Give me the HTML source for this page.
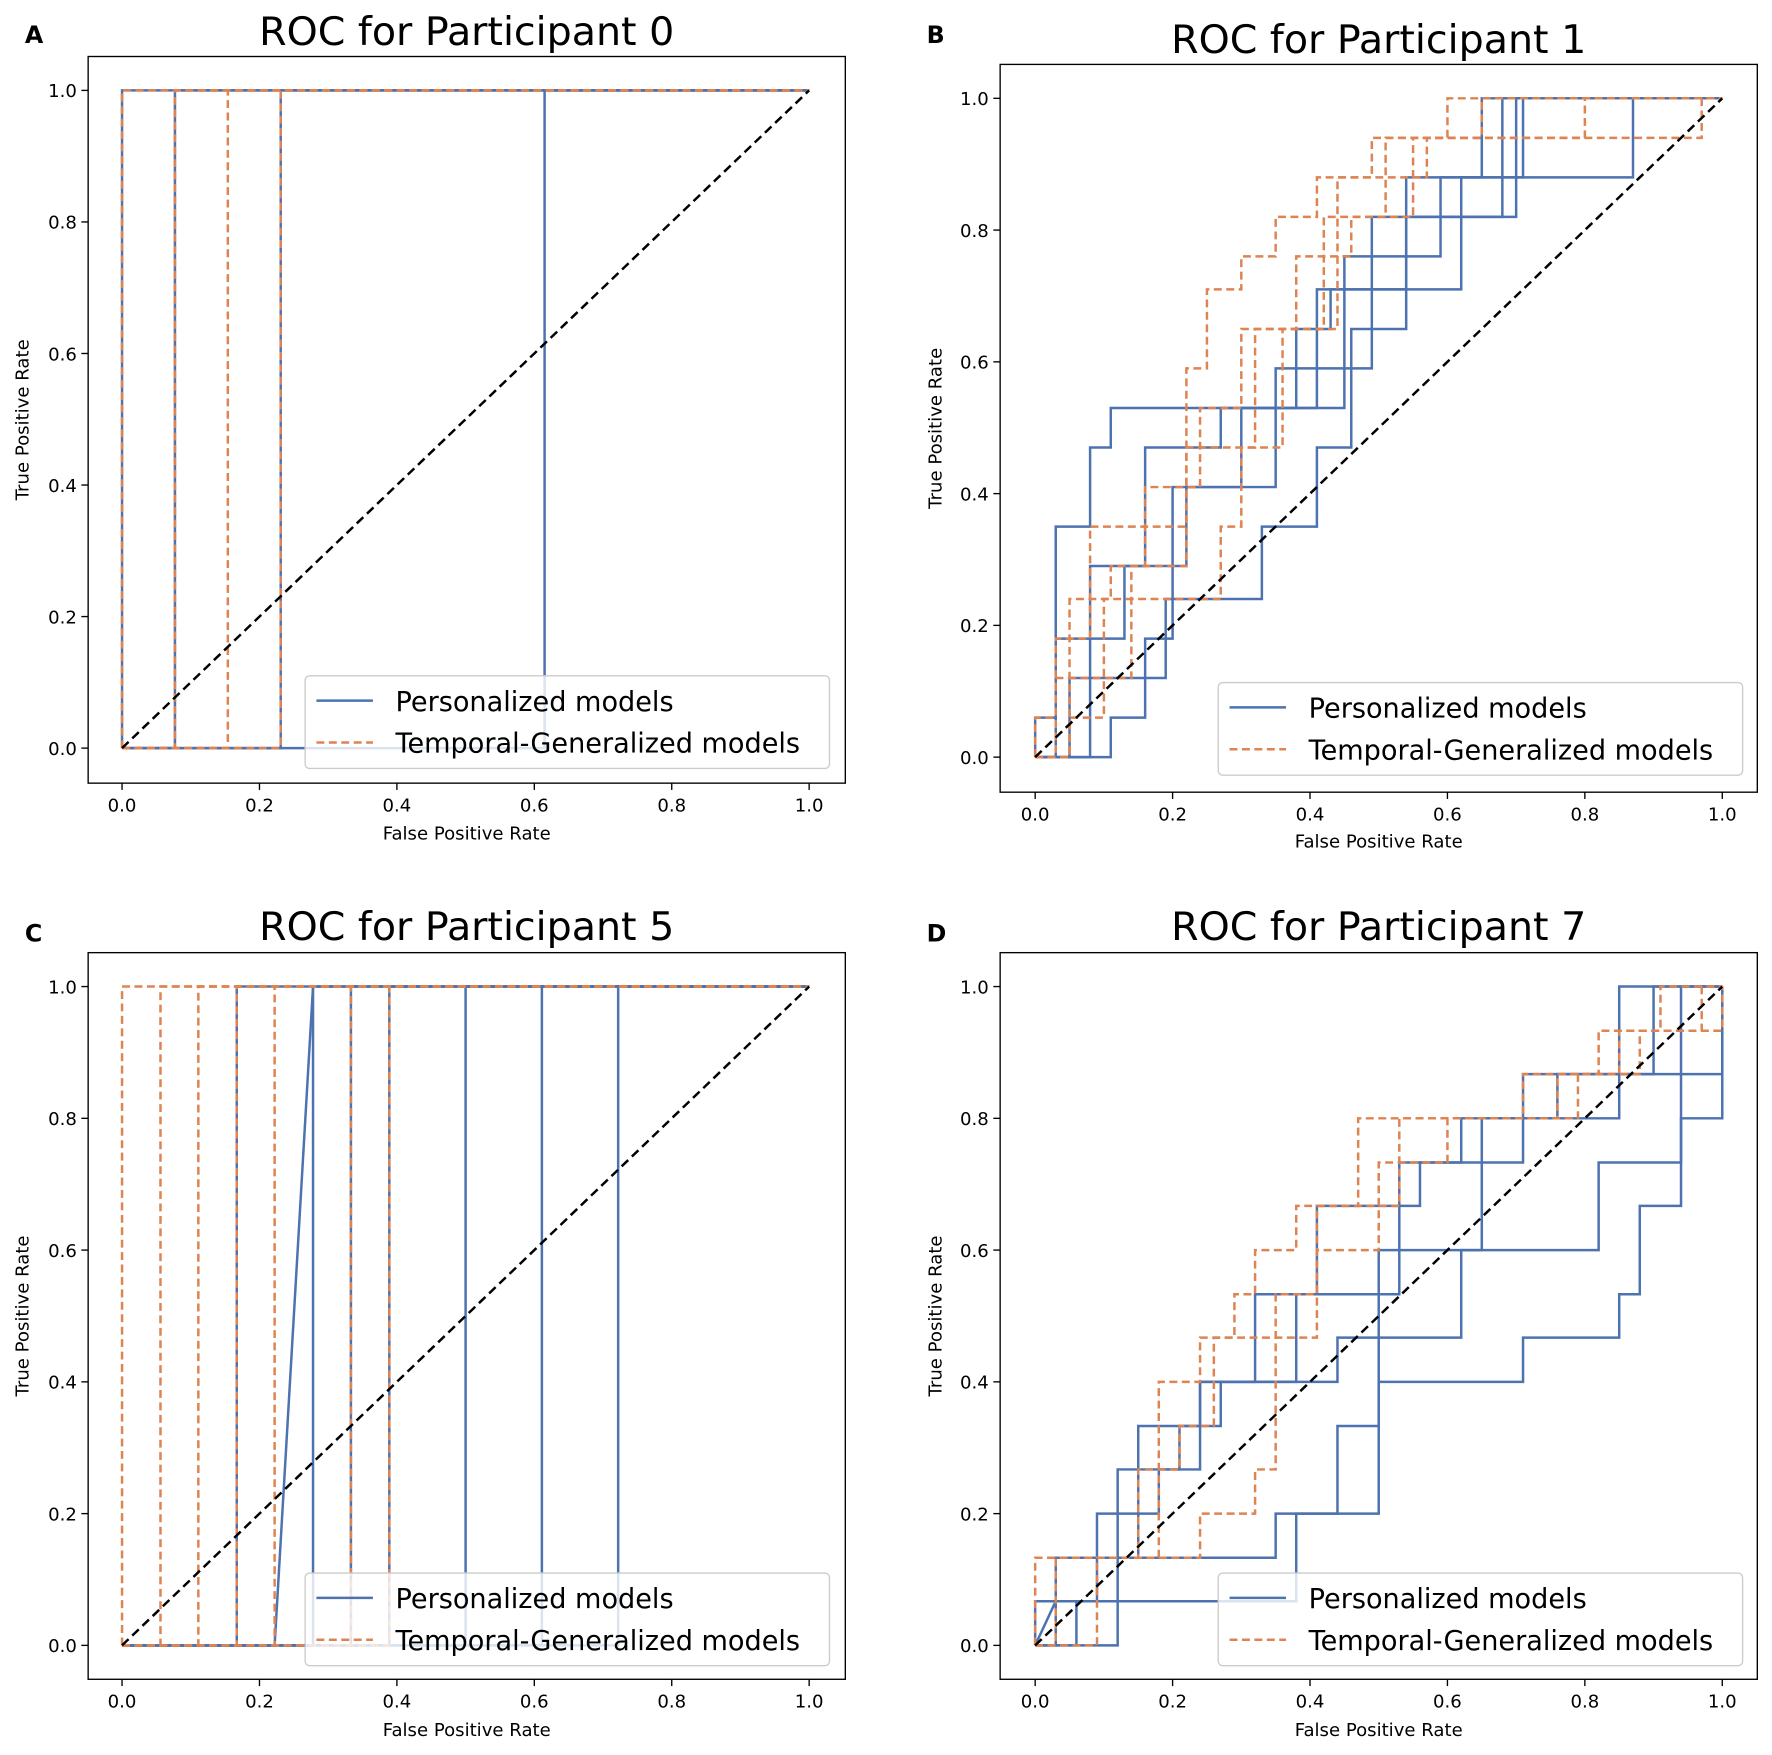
<!DOCTYPE html>
<html><head><meta charset="utf-8"><style>
html,body{margin:0;padding:0;background:#fff;}
svg{display:block;font-family:"DejaVu Sans","Liberation Sans",sans-serif;}
</style></head><body>
<svg id="fig" width="1772" height="1755" viewBox="0 0 1568 1553" preserveAspectRatio="none"></svg>
<script>
// ---- data (fpr / tpr point lists of step curves) ----
const panelTitles = ["ROC for Participant 0","ROC for Participant 1","ROC for Participant 5","ROC for Participant 7"];
const panelLetters = ["A","B","C","D"];
const tickLabels = ["0.0","0.2","0.4","0.6","0.8","1.0"];
const tickValues = [0,0.2,0.4,0.6,0.8,1.0];
const legendLabels = ["Personalized models","Temporal-Generalized models"];

const blueA_fpr = [[0,0,1],[0,0.077,0.077,1],[0,0.231,0.231,1],[0,0.615,0.615,1]];
const blueA_tpr = [[0,1,1],[0,0,1,1],[0,0,1,1],[0,0,1,1]];
const orangeA_fpr = [[0,0,1],[0,0.077,0.077,1],[0,0.154,0.154,1],[0,0.231,0.231,1]];
const orangeA_tpr = [[0,1,1],[0,0,1,1],[0,0,1,1],[0,0,1,1]];

const blueB_fpr = [
 [0,0,0.03,0.03,0.08,0.08,0.11,0.11,0.41,0.41,0.54,0.54,0.65,0.65,1],
 [0,0.11,0.11,0.16,0.16,0.2,0.2,0.3,0.3,0.45,0.45,0.59,0.59,0.87,0.87,1],
 [0,0.05,0.05,0.19,0.19,0.33,0.33,0.41,0.41,0.46,0.46,0.54,0.54,0.7,0.7,1],
 [0,0.03,0.03,0.13,0.13,0.22,0.22,0.35,0.35,0.49,0.49,0.68,0.68,1],
 [0,0.08,0.08,0.16,0.16,0.27,0.27,0.38,0.38,0.43,0.43,0.62,0.62,0.71,0.71,1]];
const blueB_tpr = [
 [0,0.06,0.06,0.35,0.35,0.47,0.47,0.53,0.53,0.71,0.71,0.88,0.88,1,1],
 [0,0,0.06,0.06,0.18,0.18,0.41,0.41,0.53,0.53,0.76,0.76,0.88,0.88,1,1],
 [0,0,0.12,0.12,0.24,0.24,0.35,0.35,0.47,0.47,0.65,0.65,0.82,0.82,1,1],
 [0,0,0.18,0.18,0.29,0.29,0.41,0.41,0.59,0.59,0.82,0.82,1,1],
 [0,0,0.29,0.29,0.47,0.47,0.53,0.53,0.65,0.65,0.71,0.71,0.88,0.88,1,1]];
const orangeB_fpr = [
 [0,0,0.03,0.03,0.08,0.08,0.22,0.22,0.25,0.25,0.3,0.3,0.35,0.35,0.41,0.41,0.49,0.49,0.6,0.6,1],
 [0,0.05,0.05,0.11,0.11,0.16,0.16,0.24,0.24,0.3,0.3,0.38,0.38,0.46,0.46,0.51,0.51,0.65,0.65,1],
 [0,0.03,0.03,0.14,0.14,0.22,0.22,0.32,0.32,0.42,0.42,0.55,0.55,0.97,0.97,1],
 [0,0.05,0.05,0.1,0.1,0.27,0.27,0.3,0.3,0.36,0.36,0.44,0.44,0.57,0.57,0.8,0.8,1]];
const orangeB_tpr = [
 [0,0.06,0.06,0.18,0.18,0.35,0.35,0.59,0.59,0.71,0.71,0.76,0.76,0.82,0.82,0.88,0.88,0.94,0.94,1,1],
 [0,0,0.24,0.24,0.29,0.29,0.41,0.41,0.53,0.53,0.65,0.65,0.76,0.76,0.82,0.82,0.94,0.94,1,1],
 [0,0,0.12,0.12,0.29,0.29,0.47,0.47,0.65,0.65,0.82,0.82,0.94,0.94,1,1],
 [0,0,0.06,0.06,0.24,0.24,0.35,0.35,0.47,0.47,0.65,0.65,0.88,0.88,0.94,0.94,1,1]];

const blueC_fpr = [[0,0.167,0.167,1],[0,0.222,0.278,1],[0,0.278,0.278,1],[0,0.333,0.333,1],[0,0.389,0.389,1],[0,0.5,0.5,1],[0,0.611,0.611,1],[0,0.722,0.722,1]];
const blueC_tpr = [[0,0,1,1],[0,0,1,1],[0,0,1,1],[0,0,1,1],[0,0,1,1],[0,0,1,1],[0,0,1,1],[0,0,1,1]];
const orangeC_fpr = [[0,0,1],[0,0.056,0.056,1],[0,0.111,0.111,1],[0,0.167,0.167,1],[0,0.222,0.222,1],[0,0.333,0.333,1],[0,0.389,0.389,1]];
const orangeC_tpr = [[0,1,1],[0,0,1,1],[0,0,1,1],[0,0,1,1],[0,0,1,1],[0,0,1,1],[0,0,1,1]];

const blueD_fpr = [
 [0,0.03,0.03,0.12,0.12,0.21,0.21,0.24,0.24,0.38,0.38,0.53,0.53,0.62,0.62,0.85,0.85,1],
 [0,0.12,0.12,0.35,0.35,0.44,0.44,0.5,0.5,0.62,0.62,0.82,0.82,0.94,0.94,1,1],
 [0,0,0.09,0.09,0.18,0.18,0.24,0.24,0.44,0.44,0.5,0.5,0.65,0.65,0.76,0.76,0.9,0.9,1],
 [0,0.06,0.06,0.38,0.38,0.5,0.5,0.71,0.71,0.85,0.85,0.88,0.88,0.94,0.94,1,1],
 [0,0.03,0.03,0.15,0.15,0.27,0.27,0.32,0.32,0.41,0.41,0.56,0.56,0.71,0.71,0.94,0.94,1]];
const blueD_tpr = [
 [0,0.067,0.133,0.133,0.267,0.267,0.333,0.333,0.4,0.4,0.533,0.533,0.733,0.733,0.8,0.8,1,1],
 [0,0,0.133,0.133,0.2,0.2,0.333,0.333,0.467,0.467,0.6,0.6,0.733,0.733,0.867,0.867,1],
 [0,0.067,0.067,0.2,0.2,0.267,0.267,0.4,0.4,0.467,0.467,0.6,0.6,0.8,0.8,0.867,0.867,1,1],
 [0,0,0.067,0.067,0.2,0.2,0.4,0.4,0.467,0.467,0.533,0.533,0.667,0.667,0.8,0.8,1],
 [0,0,0.133,0.133,0.333,0.333,0.4,0.4,0.533,0.533,0.667,0.667,0.733,0.733,0.867,0.867,1,1]];
const orangeD_fpr = [
 [0,0,0.18,0.18,0.24,0.24,0.29,0.29,0.32,0.32,0.38,0.38,0.47,0.47,0.76,0.76,0.82,0.82,0.91,0.91,1],
 [0,0.09,0.09,0.15,0.15,0.21,0.21,0.26,0.26,0.35,0.35,0.41,0.41,0.53,0.53,0.71,0.71,0.85,0.85,0.97,0.97,1],
 [0,0.03,0.03,0.24,0.24,0.32,0.32,0.35,0.35,0.41,0.41,0.5,0.5,0.6,0.6,0.79,0.79,0.88,0.88,1,1]];
const orangeD_tpr = [
 [0,0.133,0.133,0.4,0.4,0.467,0.467,0.533,0.533,0.6,0.6,0.667,0.667,0.8,0.8,0.867,0.867,0.933,0.933,1,1],
 [0,0,0.133,0.133,0.267,0.267,0.333,0.333,0.467,0.467,0.533,0.533,0.667,0.667,0.8,0.8,0.867,0.867,0.933,0.933,1,1],
 [0,0,0.133,0.133,0.2,0.2,0.267,0.267,0.467,0.467,0.6,0.6,0.733,0.733,0.8,0.8,0.867,0.867,0.933,0.933,1]];

const panelBlueFpr = [blueA_fpr, blueB_fpr, blueC_fpr, blueD_fpr];
const panelBlueTpr = [blueA_tpr, blueB_tpr, blueC_tpr, blueD_tpr];
const panelOrangeFpr = [orangeA_fpr, orangeB_fpr, orangeC_fpr, orangeD_fpr];
const panelOrangeTpr = [orangeA_tpr, orangeB_tpr, orangeC_tpr, orangeD_tpr];

// ---- layout ----
const NS = "http://www.w3.org/2000/svg";
const svg = document.getElementById("fig");
const layouts = [
 {box:[78,50,748,693], x0:108, x1:716, y0:662, y1:80, title:[413,40], letter:[22,38], xl:743, yl:14, leg:[270,598]},
 {box:[885,57,1555,701], x0:916, x1:1524, y0:670, y1:87, title:[1220,47], letter:[820,38], xl:750, yl:822, leg:[1078,604]},
 {box:[78,843,748,1486], x0:108, x1:716, y0:1456, y1:873, title:[413,832], letter:[22,833], xl:1536, yl:14, leg:[270,1392]},
 {box:[885,843,1555,1486], x0:916, x1:1524, y0:1456, y1:873, title:[1220,832], letter:[820,833], xl:1536, yl:822, leg:[1078,1392]}
];
function el(tag, attrs, parent){const e=document.createElementNS(NS,tag);for(const k in attrs)e.setAttribute(k,attrs[k]);(parent||svg).appendChild(e);return e;}
const BLUE="#4c72b0", ORANGE="#dd8452";

layouts.forEach((L,p)=>{
  const g = el("g",{});
  
  
  const sx = v => L.x0 + v*(L.x1-L.x0);
  const sy = v => L.y0 + v*(L.y1-L.y0);
  const [bl,bt,br,bb]=L.box;
  const drawCurves=(fs,ts,color,dash,name)=>{
    fs.forEach((f,i)=>{
      const pts=f.map((v,j)=>sx(v).toFixed(1)+","+sy(ts[i][j]).toFixed(1)).join(" ");
      const pl=el("polyline",{points:pts,fill:"none",stroke:color,"stroke-width":2.2,"stroke-dasharray":dash},g);
      
      
    });
  };
  drawCurves(panelBlueFpr[p],panelBlueTpr[p],BLUE,"none","personalized");
  drawCurves(panelOrangeFpr[p],panelOrangeTpr[p],ORANGE,"7,4","temporal-generalized");
  const diag=el("line",{x1:sx(0),y1:sy(0),x2:sx(1),y2:sy(1),stroke:"#000","stroke-width":2.2,"stroke-dasharray":"8,4.5"},g);
  
  
  const fr=el("rect",{x:bl,y:bt,width:br-bl,height:bb-bt,fill:"none",stroke:"#000","stroke-width":1.2},g);
  
  
  tickValues.forEach((v,i)=>{
    el("line",{x1:sx(v),y1:bb,x2:sx(v),y2:bb+6,stroke:"#000","stroke-width":1.2},g);
    const tx=el("text",{x:sx(v),y:bb+25,"text-anchor":"middle","font-size":16},g);
    tx.textContent=tickLabels[i];
    
    
    el("line",{x1:bl-6,y1:sy(v),x2:bl,y2:sy(v),stroke:"#000","stroke-width":1.2},g);
    const ty=el("text",{x:bl-10,y:sy(v)+6,"text-anchor":"end","font-size":16},g);
    ty.textContent=tickLabels[i];
    
    
  });
  const xl=el("text",{x:(bl+br)/2,y:L.xl,"text-anchor":"middle","font-size":16},g);
  xl.textContent="False Positive Rate";
  
  
  const cy=(bt+bb)/2;
  const yl=el("text",{x:L.yl,y:cy,"text-anchor":"middle","font-size":16,transform:`rotate(-90 ${L.yl} ${cy})`,"dominant-baseline":"hanging"},g);
  yl.textContent="True Positive Rate";
  
  
  const ti=el("text",{x:L.title[0],y:L.title[1],"text-anchor":"middle","font-size":35},g);
  ti.textContent=panelTitles[p];
  
  
  const le=el("text",{x:L.letter[0],y:L.letter[1],"font-size":21,"font-weight":"bold"},g);
  le.textContent=panelLetters[p];
  
  
  const [lx,ly]=L.leg;
  const lg=el("g",{},g);
  
  
  el("rect",{x:lx,y:ly,width:464,height:82,rx:4,fill:"rgba(255,255,255,0.8)",stroke:"#ccc","stroke-width":1.2},lg);
  [BLUE,ORANGE].forEach((c,i)=>{
    const yy=ly+22+i*37;
    el("line",{x1:lx+10,y1:yy,x2:lx+60,y2:yy,stroke:c,"stroke-width":2.2,"stroke-dasharray":i?"7,4":"none"},lg);
    const t=el("text",{x:lx+80,y:yy+9,"font-size":24},lg);
    t.textContent=legendLabels[i];
    
    
  });
});
</script>
</body></html>
